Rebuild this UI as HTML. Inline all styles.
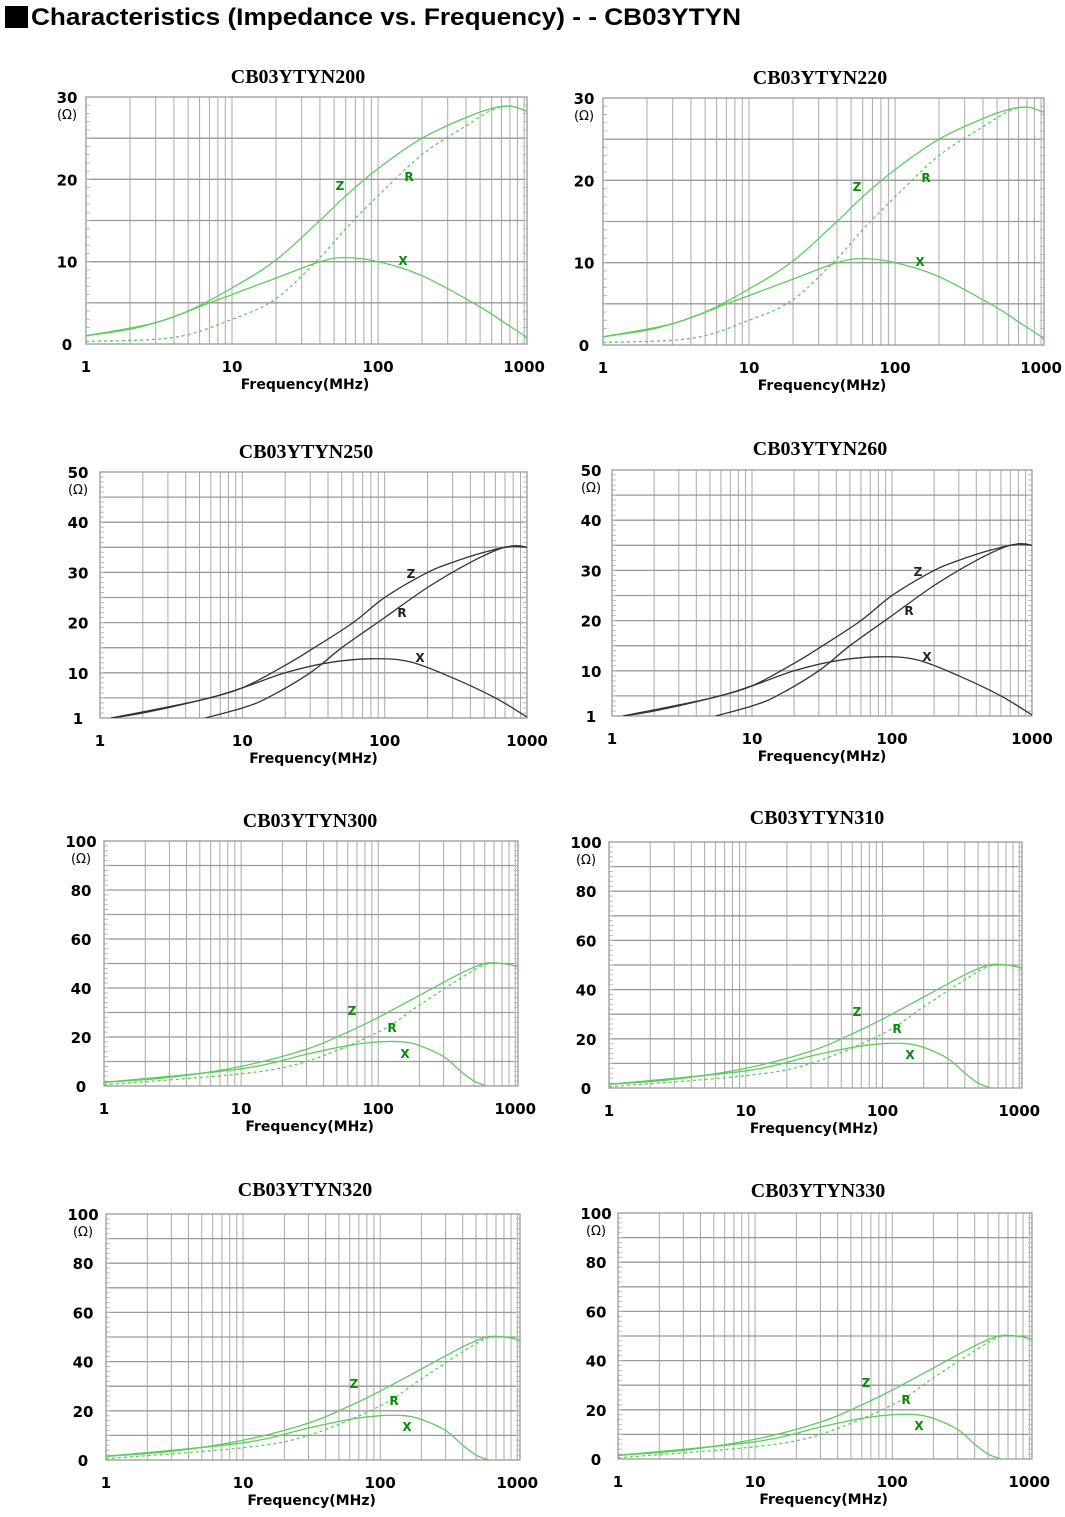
<!DOCTYPE html>
<html><head><meta charset="utf-8"><style>
body{margin:0;background:#fff;width:1065px;height:1517px;overflow:hidden}
svg{display:block}
</style></head><body>
<svg id="s" width="1065" height="1517" xmlns="http://www.w3.org/2000/svg">
<rect x="5" y="6" width="23" height="22" fill="#000"/>
<text x="31" y="25" font-family="Liberation Sans, sans-serif" font-weight="bold" font-size="24" textLength="710" lengthAdjust="spacingAndGlyphs">Characteristics (Impedance vs. Frequency) - - CB03YTYN</text>
</svg>
<script>
const S=document.getElementById('s');let h='';
const G='#5ccc5c';
const A={
 Z:[[1,1],[2,1.8],[3,2.6],[5,4],[10,6.8],[20,10.2],[40,15],[60,18],[100,21.3],[200,25],[400,27.5],[600,28.6],[800,28.9],[1000,28.4],[1100,28.1]],
 R:[[1,0.3],[4,0.8],[10,3],[20,5.5],[40,10.5],[60,14],[100,18],[200,23],[400,26.5],[600,28.4],[800,28.9],[1000,28.4],[1100,28.1]],
 X:[[1,1],[3,2.6],[7,5],[10,6],[20,8],[40,10],[60,10.5],[100,10],[200,8.3],[500,4.5],[700,2.8],[1000,1],[1100,0]]};
const B={
 Z:[[1.2,1],[2,2],[5,4.5],[10,7],[20,11.5],[30,14.5],[60,20],[100,25],[200,30],[300,32],[500,34],[800,35.3],[1000,35]],
 R:[[5.5,1],[10,3],[15,5],[30,10],[50,15],[100,21],[200,27],[400,32],[700,35],[1000,35]],
 X:[[1.2,1],[5,4.5],[10,7],[20,10],[40,12],[80,12.8],[150,12.2],[300,9],[600,5],[1000,1.2],[1050,1]]};
const C={
 Z:[[1,1.5],[3,3.5],[10,8],[30,15],[60,22],[100,28],[200,37],[400,46],[600,50],[800,50],[1000,49],[1150,48]],
 R:[[1,0.5],[10,5],[30,10],[100,22],[200,33],[400,44],[600,49.5],[800,50],[1000,49],[1150,48]],
 X:[[1,1.5],[10,7],[30,13],[60,16.5],[100,18],[150,18],[200,16.5],[300,12],[400,6],[500,2],[620,0]]};
const charts=[
 {t:'CB03YTYN200',tx:298,ty:83,x0:86,x1:527,y0:97,y1:344,vmin:0,vmax:30,step:5,lab:[0,10,20,30],d:A,L:[340,185,409,176,403,260],green:1,lx:67,dec:3.02},
 {t:'CB03YTYN220',tx:820,ty:84,x0:603,x1:1044,y0:98,y1:345,vmin:0,vmax:30,step:5,lab:[0,10,20,30],d:A,L:[857,186,926,177,920,261],green:1,lx:584,dec:3.02},
 {t:'CB03YTYN250',tx:306,ty:458,x0:100,x1:527,y0:472,y1:718,vmin:1,vmax:50,step:5,lab:[1,10,20,30,40,50],d:B,L:[411,573,402,612,420,657],green:0,lx:78,dec:3.0},
 {t:'CB03YTYN260',tx:820,ty:455,x0:612,x1:1032,y0:470,y1:716,vmin:1,vmax:50,step:5,lab:[1,10,20,30,40,50],d:B,L:[918,571,909,610,927,656],green:0,lx:591,dec:3.0},
 {t:'CB03YTYN300',tx:310,ty:827,x0:104,x1:518,y0:841,y1:1086,vmin:0,vmax:100,step:10,lab:[0,20,40,60,80,100],d:C,L:[352,1010,392,1027,405,1053],green:1,lx:81,dec:3.02},
 {t:'CB03YTYN310',tx:817,ty:824,x0:609,x1:1022,y0:842,y1:1088,vmin:0,vmax:100,step:10,lab:[0,20,40,60,80,100],d:C,L:[857,1011,897,1028,910,1054],green:1,lx:586,dec:3.02},
 {t:'CB03YTYN320',tx:305,ty:1196,x0:106,x1:520,y0:1214,y1:1460,vmin:0,vmax:100,step:10,lab:[0,20,40,60,80,100],d:C,L:[354,1383,394,1400,407,1426],green:1,lx:83,dec:3.02},
 {t:'CB03YTYN330',tx:818,ty:1197,x0:618,x1:1032,y0:1213,y1:1459,vmin:0,vmax:100,step:10,lab:[0,20,40,60,80,100],d:C,L:[866,1382,906,1399,919,1425],green:1,lx:596,dec:3.02}];
const F='font-family="DejaVu Sans, Liberation Sans, sans-serif" font-weight="bold"';
for(const c of charts){
 const W=c.x1-c.x0,dw=W/c.dec;
 const X=f=>c.x0+Math.log10(f)*dw;
 const Y=v=>c.y1-(v-c.vmin)/(c.vmax-c.vmin)*(c.y1-c.y0);
 h+=`<text x="${c.tx}" y="${c.ty}" font-family="Liberation Serif, serif" font-weight="bold" font-size="20" text-anchor="middle">${c.t}</text>`;
 for(let d=0;d<4;d++)for(let k=1;k<10;k++){const f=k*Math.pow(10,d);const x=X(f);if(x>c.x1+0.5)break;
  h+=`<line x1="${x.toFixed(1)}" y1="${c.y0}" x2="${x.toFixed(1)}" y2="${c.y1}" stroke="#aaa" stroke-width="1"/>`;}
 for(let v=(c.vmin==1?5:c.step);v<c.vmax;v+=c.step){const y=Y(v);
  h+=`<line x1="${c.x0}" y1="${y.toFixed(1)}" x2="${c.x1}" y2="${y.toFixed(1)}" stroke="#999" stroke-width="1.3"/>`;}
 const ms=c.step/5;
 for(let v=c.vmin==1?0:c.vmin;v<c.vmax;v+=ms){const y=Y(v);if(y>c.y1)continue;
  h+=`<line x1="${c.x0}" y1="${y.toFixed(1)}" x2="${c.x0+4}" y2="${y.toFixed(1)}" stroke="#bbb"/><line x1="${c.x1-4}" y1="${y.toFixed(1)}" x2="${c.x1}" y2="${y.toFixed(1)}" stroke="#bbb"/>`;}
 h+=`<rect x="${c.x0}" y="${c.y0}" width="${W}" height="${c.y1-c.y0}" fill="none" stroke="#999" stroke-width="1.3"/>`;
 for(const v of c.lab){h+=`<text x="${c.lx}" y="${(Y(v)+6).toFixed(1)}" ${F} font-size="15" text-anchor="middle">${v}</text>`;}
 h+=`<text x="${c.lx}" y="${(Y(c.vmax)+22).toFixed(1)}" font-family="DejaVu Sans, sans-serif" font-size="13" text-anchor="middle">(Ω)</text>`;
 [1,10,100,1000].forEach(f=>{h+=`<text x="${X(f)}" y="${c.y1+28}" ${F} font-size="15" text-anchor="middle">${f}</text>`;});
 h+=`<text x="${X(Math.pow(10,1.5))}" y="${c.y1+45}" ${F} font-size="14" text-anchor="middle">Frequency(MHz)</text>`;
 const col=c.green?G:'#333';
 const path=pts=>{
  const P=pts.map(p=>[X(p[0]),Y(p[1])]);
  let d='M'+P[0][0].toFixed(1)+','+P[0][1].toFixed(1);
  for(let i=0;i<P.length-1;i++){const p0=P[i-1]||P[i],p1=P[i],p2=P[i+1],p3=P[i+2]||P[i+1];
   const c1=[p1[0]+(p2[0]-p0[0])/6,p1[1]+(p2[1]-p0[1])/6],c2=[p2[0]-(p3[0]-p1[0])/6,p2[1]-(p3[1]-p1[1])/6];
   d+=` C${c1[0].toFixed(1)},${c1[1].toFixed(1)} ${c2[0].toFixed(1)},${c2[1].toFixed(1)} ${p2[0].toFixed(1)},${p2[1].toFixed(1)}`;}
  return d;};
 const clip=`clip${c.t}`;
 h+=`<clipPath id="${clip}"><rect x="${c.x0}" y="${c.y0}" width="${W}" height="${c.y1-c.y0}"/></clipPath><g clip-path="url(#${clip})" fill="none" stroke="${col}" stroke-width="1.3">`;
 h+=`<path d="${path(c.d.Z)}"/><path d="${path(c.d.X)}"/><path d="${path(c.d.R)}" ${c.green?'stroke-dasharray="3,3"':''}/></g>`;
 const lc=c.green?'#0a8a0a':'#222';
 const L=c.L;
 [['Z',0],['R',2],['X',4]].forEach(([s,i])=>{h+=`<text x="${L[i]}" y="${L[i+1]+5}" ${F} font-size="12" fill="${lc}" text-anchor="middle">${s}</text>`;});
}
S.insertAdjacentHTML('beforeend',h);
</script>
</body></html>
